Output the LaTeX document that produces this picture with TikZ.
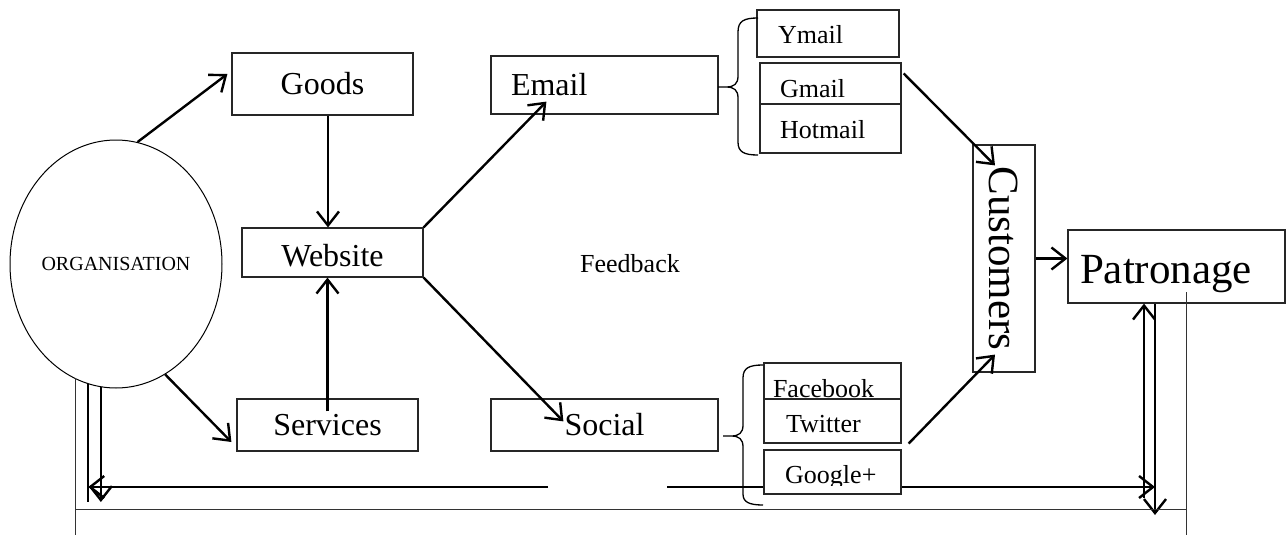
\documentclass[tikz,border=0pt]{standalone}
\usepackage{fontspec}
\setmainfont{Liberation Serif}
\usetikzlibrary{arrows.meta,shapes.geometric}
\newcommand{\boxfont}{\fontsize{32}{38}\selectfont}
\newcommand{\subfont}{\fontsize{26}{31}\selectfont}
\newcommand{\orgfont}{\fontsize{20}{24}\selectfont}
\newcommand{\bigfont}{\fontsize{43}{50}\selectfont}

\begin{document}
\begin{tikzpicture}[
  x=1pt, y=-1pt,
  mainbox/.style={draw=black!85, line width=1.2pt, minimum width=181pt, inner sep=0pt, font=\boxfont},
  subbox/.style={draw=black!85, line width=1.2pt, inner ysep=0pt, text depth=0pt, align=left, font=\subfont},
  arrow/.style={-{Straight Barb[length=14pt,width=22pt]}, line width=2.4pt},
  thickline/.style={line width=2.4pt},
  frameline/.style={line width=1pt, black!80},
  braceline/.style={line width=1.3pt}
]
  \useasboundingbox (0,0) rectangle (1288,535);

  % left part
  \node[draw, ellipse, line width=1pt, minimum width=212pt, minimum height=248pt, inner sep=0pt, font=\orgfont] (org) at (116,264) {ORGANISATION};
  \node[mainbox, minimum height=62pt] (goods) at (322.5,84) {Goods};
  \node[mainbox, minimum height=49pt, text height=29pt] (website) at (332.5,252.5) {Website};
  \node[mainbox, minimum height=52pt] (services) at (327.5,425) {Services};
  \node[mainbox, minimum width=227pt, minimum height=58pt, inner xsep=20pt, text width=187pt, align=left] (email) at (604.5,85) {Email};
  \node[mainbox, minimum width=227pt, minimum height=52pt] (social) at (604.5,425) {Social};
  \node[font=\subfont] (feedback) at (630,264) {Feedback};

  % mail and social sites
  \node[subbox, inner xsep=21pt, text width=100pt, minimum height=47pt, text height=21pt] (ymail) at (828,33.5) {Ymail};
  \node[subbox, inner xsep=20pt, text width=101pt, minimum height=41pt, text height=27pt] (gmail) at (830.5,83.5) {Gmail};
  \node[subbox, inner xsep=20pt, text width=101pt, minimum height=49pt, text height=19pt] (hotmail) at (830.5,128.5) {Hotmail};
  \node[subbox, inner xsep=9pt, text width=119pt, minimum height=36pt, text height=32pt] (facebook) at (832.5,381) {Facebook};
  \node[subbox, inner xsep=22pt, text width=93pt, minimum height=44pt, text height=22pt] (twitter) at (832.5,421) {Twitter};

  \draw[braceline] (758,18) .. controls (744,18) and (738,21) .. (738,32) -- (738,76)
    .. controls (738,84) and (734,87) .. (726,87) -- (718,87)
    (726,87) .. controls (734,87) and (738,90) .. (738,98) -- (738,142)
    .. controls (738,152) and (744,155) .. (758,155);
  \draw[braceline] (763,365) .. controls (749,365) and (743,368) .. (743,378) -- (743,425)
    .. controls (743,433) and (739,436) .. (731,436) -- (723,436)
    (731,436) .. controls (739,436) and (743,439) .. (743,447) -- (743,494)
    .. controls (743,502) and (749,505) .. (763,505);

  % right part
  \node[draw=black!85, line width=1.2pt, minimum width=62pt, minimum height=227pt, inner sep=0pt, font=\bigfont] (customers) at (1004,258.5) {\rotatebox{-90}{Customers}\hspace{16pt}};
  \node[draw=black!85, line width=1.2pt, minimum width=217pt, minimum height=73pt, inner ysep=0pt, inner xsep=12pt, text width=193pt, align=left, text height=42pt, text depth=9pt, font=\bigfont] (patronage) at (1176.5,266.5) {Patronage};

  % connectors
  \draw[arrow] (org.80) -- ([xshift=-4pt,yshift=10pt]goods.west);
  \draw[arrow] (org.-66) -- ([xshift=-5pt,yshift=-17pt]services.west);
  \draw[arrow] ([xshift=5.5pt]goods.south) -- ([xshift=-4.5pt]website.north);
  \draw[arrow] ([yshift=-13pt]services.north) -- (services.north |- website.south);
  \draw[arrow] (website.north east) -- ([xshift=56pt,yshift=13pt]email.south west);
  \draw[arrow] (website.south east) -- ([xshift=73pt,yshift=-23pt]social.north west);
  \draw[arrow] ([xshift=2pt,yshift=-11pt]gmail.north east) -- ([xshift=-9pt,yshift=-21pt]customers.north);
  \draw[arrow] ([xshift=7pt]twitter.south east) -- ([xshift=-9pt,yshift=18pt]customers.south);
  \draw[arrow] (customers.east) -- (customers.east -| patronage.west);

  % feedback loop
  \coordinate (lowL) at (0,502);
  \coordinate (lowR) at (0,498);
  \coordinate (lowRR) at (0,515);
  \coordinate (gapL) at (548,487);
  \coordinate (gapR) at (667,487);
  \coordinate (pup) at ([xshift=-32.5pt]patronage.south);
  \coordinate (pdown) at ([xshift=-21.5pt]patronage.south);
  \draw[thickline] (org.-103) -- (org.-103 |- lowL);
  \draw[arrow] (org.-97) -- (org.-97 |- lowL);
  \draw[arrow] (gapL) -- (gapL -| org.-103);
  \draw[arrow] (gapR) -- (gapR -| pdown);
  \draw[arrow] (pup |- lowR) -- (pup);
  \draw[arrow] (pdown) -- (pdown |- lowRR);

  \draw[frameline] (75,378) -- (75,535);
  \draw[frameline] (75,509) -- (1186,509);
  \draw[frameline] (1186,292) -- (1186,535);

  \node[subbox, fill=white, inner xsep=21pt, text width=95pt, minimum height=44pt] (google) at (832.5,472) {};
  \begin{scope}
    \clip (google.north west) rectangle ([yshift=9pt]google.south east);
    \node[anchor=base west, inner sep=0pt, font=\subfont] (googletext) at (785,483) {Google+};
  \end{scope}
\end{tikzpicture}
\end{document}
